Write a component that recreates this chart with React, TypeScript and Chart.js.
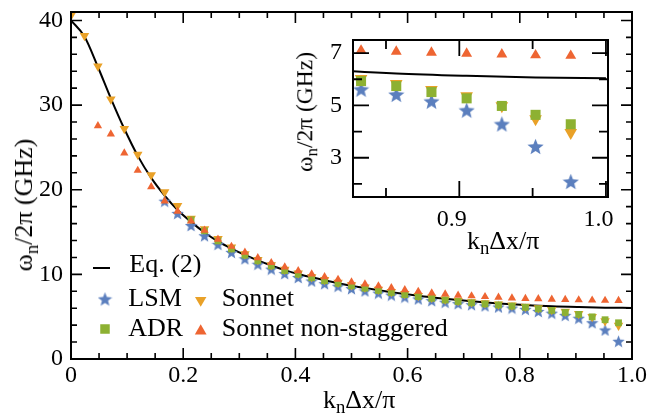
import React, { useEffect, useRef } from 'react';
import { Chart, registerables } from 'chart.js';

Chart.register(...registerables);

const FONT = "'Liberation Serif', 'DejaVu Serif', 'Noto Serif', Tinos, 'Times New Roman', Times, FreeSerif, serif";

// k_n Δx / π for n = 0..41
const kx = [0, 0.024, 0.048, 0.071, 0.095, 0.119, 0.143, 0.167, 0.19, 0.214, 0.238, 0.262, 0.286, 0.31, 0.333, 0.357, 0.381, 0.405, 0.429, 0.452, 0.476, 0.5, 0.524, 0.548, 0.571, 0.595, 0.619, 0.643, 0.667, 0.69, 0.714, 0.738, 0.762, 0.786, 0.81, 0.833, 0.857, 0.881, 0.905, 0.929, 0.952, 0.976];

// Sonnet (down triangles), n = 0..41
const sonnet = [40.6, 38.2, 34.6, 30.7, 27.2, 24.15, 21.75, 19.72, 18.1, 16.6, 15.35, 14.2, 13.2, 12.4, 11.72, 11.12, 10.57, 10.13, 9.7, 9.35, 9.04, 8.75, 8.47, 8.2, 7.95, 7.71, 7.48, 7.27, 7.07, 6.89, 6.74, 6.61, 6.48, 6.35, 6.2, 6.02, 5.83, 5.6, 5.36, 4.98, 4.48, 3.96];

// ADR (squares), n = 0..41
const adr = [null, null, null, null, null, null, null, null, null, 16.45, 15.15, 13.95, 13.0, 12.27, 11.6, 11.0, 10.45, 10.02, 9.6, 9.25, 8.94, 8.65, 8.37, 8.1, 7.85, 7.61, 7.38, 7.17, 6.97, 6.79, 6.64, 6.51, 6.38, 6.25, 6.11, 5.93, 5.74, 5.51, 5.27, 4.98, 4.64, 4.28];

// LSM (stars), n = 0..41
const lsm = [null, null, null, null, null, null, null, 18.65, 17.2, 15.78, 14.57, 13.55, 12.6, 11.85, 11.2, 10.62, 10.1, 9.63, 9.22, 8.9, 8.6, 8.32, 8.05, 7.79, 7.55, 7.32, 7.1, 6.9, 6.71, 6.55, 6.42, 6.29, 6.15, 6.02, 5.87, 5.62, 5.42, 5.16, 4.82, 4.29, 3.43, 2.09];

// Sonnet non-staggered (up triangles), n = 0..41
const sonnetNS = [null, null, 27.55, 26.58, 24.33, 22.28, 20.34, 18.67, 17.45, 16.3, 15.2, 14.15, 13.3, 12.6, 11.95, 11.38, 10.87, 10.42, 10.03, 9.7, 9.4, 9.1, 8.86, 8.63, 8.4, 8.18, 7.98, 7.8, 7.66, 7.53, 7.45, 7.36, 7.28, 7.21, 7.15, 7.1, 7.06, 7.02, 6.98, 6.95, 6.92, 6.9];

// Eq. (2) curve
const eqX = [0, 0.024, 0.048, 0.071, 0.095, 0.119, 0.143, 0.167, 0.19, 0.214, 0.238, 0.262, 0.286, 0.31, 0.333, 0.357, 0.381, 0.405, 0.429, 0.476, 0.524, 0.571, 0.619, 0.667, 0.714, 0.762, 0.81, 0.857, 0.905, 0.952, 1.0];
const eqY = [40.0, 38.1, 34.5, 30.8, 27.2, 24.0, 21.4, 19.3, 17.6, 16.2, 14.95, 13.9, 13.05, 12.3, 11.65, 11.05, 10.5, 10.05, 9.65, 8.95, 8.38, 7.9, 7.48, 7.13, 6.83, 6.57, 6.37, 6.22, 6.13, 6.07, 6.04];

// Axis ticks
const mainXTicks = [0, 0.2, 0.4, 0.6, 0.8, 1.0];
const mainXMinor = [0.05, 0.1, 0.15, 0.25, 0.3, 0.35, 0.45, 0.5, 0.55, 0.65, 0.7, 0.75, 0.85, 0.9, 0.95];
const mainYTicks = [0, 10, 20, 30, 40];
const mainYMinor = [2, 4, 6, 8, 12, 14, 16, 18, 22, 24, 26, 28, 32, 34, 36, 38];
const insetXTicks = [0.9, 1.0];
const insetXMinor = [0.85, 0.95];
const insetYTicks = [3, 5, 7];
const insetYMinor = [2, 4, 6];

const C_LSM = '#5B7FBE';
const C_ADR = '#8DB132';
const C_SON = '#E9A128';
const C_NS = '#EE6532';

function makeStar(size: number, color: string) {
  const c = document.createElement('canvas');
  c.width = size;
  c.height = size;
  const ctx = c.getContext('2d')!;
  const R = size / 2;
  const r = R * 0.43;
  const cx = size / 2;
  const cy = size / 2 + 0.095 * R;
  ctx.beginPath();
  for (let i = 0; i < 10; i++) {
    const a = -Math.PI / 2 + (i * Math.PI) / 5;
    const rad = i % 2 === 0 ? R : r;
    ctx.lineTo(cx + rad * Math.cos(a), cy + rad * Math.sin(a));
  }
  ctx.closePath();
  ctx.fillStyle = color;
  ctx.fill();
  return c;
}

function pts(ys: (number | null)[]) {
  const out: { x: number; y: number }[] = [];
  ys.forEach((y, i) => {
    if (y !== null && y !== undefined) out.push({ x: kx[i], y });
  });
  return out;
}

function drawTri(ctx: CanvasRenderingContext2D, x: number, y: number, r: number, down: boolean, color: string) {
  ctx.beginPath();
  for (let i = 0; i < 3; i++) {
    const a = (down ? Math.PI : 0) + (i * 2 * Math.PI) / 3;
    ctx.lineTo(x + Math.sin(a) * r, y - Math.cos(a) * r);
  }
  ctx.closePath();
  ctx.fillStyle = color;
  ctx.fill();
}

const frameTicks = {
  id: 'frameTicks',
  afterDatasetsDraw(chart: any, _args: any, opts: any) {
    const { ctx, chartArea: a } = chart;
    const xs = chart.scales.x;
    const ys = chart.scales.y;
    ctx.save();
    ctx.strokeStyle = '#000';
    ctx.lineWidth = opts.tickWidth;
    ctx.beginPath();
    const seg = (x1: number, y1: number, x2: number, y2: number) => {
      ctx.moveTo(x1, y1);
      ctx.lineTo(x2, y2);
    };
    const vx = (vals: number[], len: number) => {
      for (const v of vals) {
        const p = xs.getPixelForValue(v);
        seg(p, a.bottom, p, a.bottom - len);
        seg(p, a.top, p, a.top + len);
      }
    };
    const vy = (vals: number[], len: number) => {
      for (const v of vals) {
        const p = ys.getPixelForValue(v);
        seg(a.left, p, a.left + len, p);
        seg(a.right, p, a.right - len, p);
      }
    };
    vx(opts.xMajor, opts.majorLen);
    vx(opts.xMinor, opts.minorLen);
    vy(opts.yMajor, opts.majorLen);
    vy(opts.yMinor, opts.minorLen);
    ctx.stroke();
    ctx.lineWidth = opts.frameWidth;
    ctx.strokeRect(a.left, a.top, a.right - a.left, a.bottom - a.top);
    ctx.restore();
  },
};

function legendPlugin(star: HTMLCanvasElement) {
  return {
    id: 'legendMarks',
    afterDraw(chart: any) {
      const ctx = chart.ctx as CanvasRenderingContext2D;
      ctx.save();
      ctx.strokeStyle = '#000';
      ctx.lineWidth = 2;
      ctx.beginPath();
      ctx.moveTo(93, 268);
      ctx.lineTo(110, 268);
      ctx.stroke();
      ctx.drawImage(star, 105 - star.width / 2, 299 - star.height / 2);
      drawTri(ctx, 200.7, 300.2, 6.6, true, C_SON);
      ctx.fillStyle = C_ADR;
      ctx.fillRect(105 - 4.75, 329 - 4.75, 9.5, 9.5);
      drawTri(ctx, 200.7, 331, 6.8, false, C_NS);
      ctx.restore();
    },
  };
}

function axisCfg(min: number, max: number, tickVals: number[], fmt: (v: number) => string, size: number, isX: boolean, pad: number, labelOffset = 0) {
  return {
    type: 'linear',
    min,
    max,
    grid: { display: false, drawTicks: false, tickLength: 0 },
    border: { display: false },
    afterBuildTicks: (s: any) => {
      s.ticks = tickVals.map((v) => ({ value: v }));
    },
    afterFit: (s: any) => {
      if (isX) s.height = size;
      else s.width = size;
      s.paddingTop = 0;
      s.paddingBottom = 0;
      s.paddingLeft = 0;
      s.paddingRight = 0;
    },
    ticks: {
      callback: (v: any) => fmt(Number(v)),
      font: { family: FONT, size: 24 },
      color: '#000',
      padding: pad,
      maxRotation: 0,
      minRotation: 0,
      autoSkip: false,
      includeBounds: false,
      labelOffset,
    },
  };
}

function datasets(starImg: HTMLCanvasElement, sz: { ns: number; adr: number; son: number }) {
  return [
    {
      label: 'Sonnet non-staggered',
      data: pts(sonnetNS),
      pointStyle: 'triangle',
      pointRadius: sz.ns,
      pointBackgroundColor: C_NS,
      pointBorderWidth: 0,
      showLine: false,
      clip: 0,
    },
    {
      label: 'ADR',
      data: pts(adr),
      pointStyle: 'rect',
      pointRadius: sz.adr,
      pointBackgroundColor: C_ADR,
      pointBorderWidth: 0,
      showLine: false,
      clip: 0,
    },
    {
      label: 'Sonnet',
      data: pts(sonnet),
      pointStyle: 'triangle',
      pointRotation: 180,
      pointRadius: sz.son,
      pointBackgroundColor: C_SON,
      pointBorderWidth: 0,
      showLine: false,
      clip: 0,
    },
    {
      label: 'LSM',
      data: pts(lsm),
      pointStyle: starImg,
      pointRadius: 6,
      pointBorderWidth: 0,
      showLine: false,
      clip: 0,
    },
    {
      label: 'Eq. (2)',
      data: eqX.map((x, i) => ({ x, y: eqY[i] })),
      showLine: true,
      borderColor: '#000',
      borderWidth: 2,
      pointRadius: 0,
      cubicInterpolationMode: 'monotone',
      fill: false,
      clip: 0,
    },
  ];
}

const Sub = ({ children }: { children: any }) => (
  <span style={{ fontSize: '0.72em', position: 'relative', top: '0.3em' }}>{children}</span>
);

const Txt = ({ x, base, size = 26, children }: any) => (
  <div style={{ position: 'absolute', left: x, top: base - 0.8375 * size, fontSize: size, lineHeight: `${size}px`, whiteSpace: 'nowrap' }}>{children}</div>
);

const VTxt = ({ base, cy, size = 26, children }: any) => (
  <div
    style={{
      position: 'absolute',
      left: base - (0.8375 - 0.5) * size,
      top: cy,
      transform: 'translate(-50%, -50%) rotate(-90deg)',
      fontSize: size,
      lineHeight: `${size}px`,
      whiteSpace: 'nowrap',
    }}
  >
    {children}
  </div>
);

export default function App() {
  const mainRef = useRef<HTMLCanvasElement>(null);
  const insetRef = useRef<HTMLCanvasElement>(null);

  useEffect(() => {
    const starMain = makeStar(13, C_LSM);
    const starInset = makeStar(17, C_LSM);
    const starLegend = makeStar(15, C_LSM);

    const fmtX = (v: number) => (v === 0 ? '0' : v.toFixed(1));
    const fmtY = (v: number) => String(v);

    const main = new Chart(mainRef.current!, {
      type: 'scatter',
      data: { datasets: datasets(starMain, { ns: 4.8, adr: 4.8, son: 5.5 }) as any },
      options: {
        animation: false,
        responsive: false,
        maintainAspectRatio: false,
        events: [],
        layout: { padding: { top: 12, right: 30, left: 0, bottom: 0 } },
        plugins: {
          legend: { display: false },
          tooltip: { enabled: false },
          frameTicks: {
            xMajor: mainXTicks,
            xMinor: mainXMinor,
            yMajor: mainYTicks,
            yMinor: mainYMinor,
            majorLen: 11,
            minorLen: 6,
            tickWidth: 1.6,
            frameWidth: 2,
          },
        } as any,
        scales: {
          x: axisCfg(0, 1, mainXTicks, fmtX, 57, true, 2) as any,
          y: axisCfg(0, 41, mainYTicks, fmtY, 71, false, 8) as any,
        },
      },
      plugins: [frameTicks as any, legendPlugin(starLegend) as any],
    });

    const inset = new Chart(insetRef.current!, {
      type: 'scatter',
      data: { datasets: datasets(starInset, { ns: 6.3, adr: 7.1, son: 7.3 }) as any },
      options: {
        animation: false,
        responsive: false,
        maintainAspectRatio: false,
        events: [],
        layout: { padding: { top: 10, right: 12, left: 0, bottom: 0 } },
        plugins: {
          legend: { display: false },
          tooltip: { enabled: false },
          frameTicks: {
            xMajor: insetXTicks,
            xMinor: insetXMinor,
            yMajor: insetYTicks,
            yMinor: insetYMinor,
            majorLen: 16,
            minorLen: 9,
            tickWidth: 1.8,
            frameWidth: 2,
          },
        } as any,
        scales: {
          x: axisCfg(0.8275, 1.0014, insetXTicks, fmtX, 65, true, 8, -7.5) as any,
          y: axisCfg(1.5, 7.5, insetYTicks, fmtY, 63, false, 11) as any,
        },
      },
      plugins: [frameTicks as any],
    });

    return () => {
      main.destroy();
      inset.destroy();
    };
  }, []);

  return (
    <div style={{ position: 'absolute', left: 0, top: 0, width: 662, height: 416, background: '#fff', fontFamily: FONT, color: '#000', overflow: 'hidden' }}>
      <canvas ref={mainRef} width={662} height={416} style={{ position: 'absolute', left: 0, top: 0, width: 662, height: 416 }} />
      <canvas ref={insetRef} width={330} height={232} style={{ position: 'absolute', left: 290, top: 30, width: 330, height: 232 }} />

      <VTxt base={34} cy={205} size={26}>
        ω<Sub>n</Sub>/2π (GHz)
      </VTxt>
      <Txt x={323} base={408.3} size={26}>
        k<Sub>n</Sub>Δx/π
      </Txt>

      <VTxt base={313.5} cy={112} size={23.5}>
        ω<Sub>n</Sub>/2π (GHz)
      </VTxt>
      <Txt x={467} base={249.5} size={26}>
        k<Sub>n</Sub>Δx/π
      </Txt>

      <Txt x={129.3} base={272.3}>Eq. (2)</Txt>
      <Txt x={128.3} base={306.7}>LSM</Txt>
      <Txt x={221.7} base={306.7}>Sonnet</Txt>
      <Txt x={128.3} base={336.7}>ADR</Txt>
      <Txt x={221.7} base={336.7}>Sonnet non-staggered</Txt>
    </div>
  );
}
